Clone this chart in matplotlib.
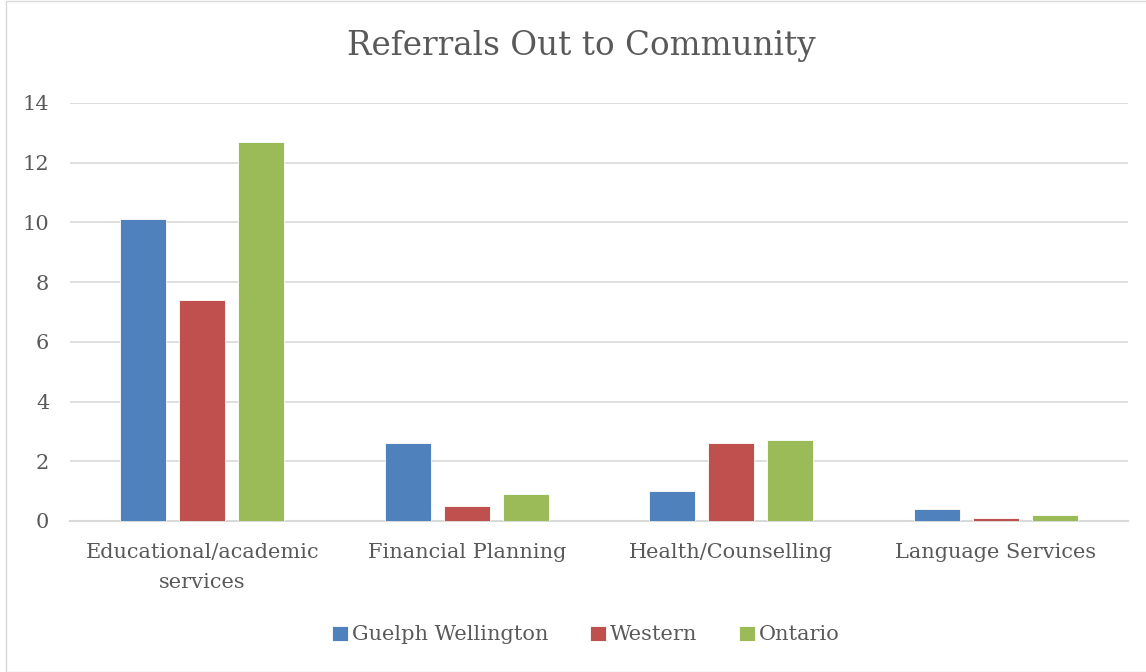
import numpy as np
import matplotlib.pyplot as plt
from matplotlib.patches import Rectangle

categories = ["Educational/academic\nservices", "Financial Planning", "Health/Counselling", "Language Services"]
series = ["Guelph Wellington", "Western", "Ontario"]
guelph = [10.1, 2.6, 1.0, 0.4]
western = [7.4, 0.5, 2.6, 0.1]
ontario = [12.7, 0.9, 2.7, 0.2]
colors = ["#4f81bd", "#c0504d", "#9bbb59"]

plt.rcParams['font.family'] = ['DejaVu Serif']

fig = plt.figure(figsize=(11.46, 6.72), dpi=100)
ax = fig.add_axes([70 / 1146, 1 - 521 / 672, 1058 / 1146, 418 / 672])

x = np.arange(len(categories))
width = 0.175
offset = 0.223
for i, (name, vals) in enumerate(zip(series, [guelph, western, ontario])):
    ax.bar(x + (i - 1) * offset, vals, width, color=colors[i], label=name,
           edgecolor="white", linewidth=0.6, zorder=3)

ax.set_xlim(-0.5, len(categories) - 0.5)
ax.set_ylim(0, 14)
ax.set_yticks(range(0, 15, 2))
ax.set_xticks(x)
ax.set_xticklabels(categories, fontsize=15, color="#595959", linespacing=1.75)
ax.tick_params(axis="y", labelsize=15, labelcolor="#595959", length=0, pad=15)
ax.tick_params(axis="x", length=0, pad=16)
ax.grid(axis="y", color="#d9d9d9", linewidth=1.2, zorder=0)
for s in ["top", "right", "left"]:
    ax.spines[s].set_visible(False)
ax.spines["bottom"].set_color("#d9d9d9")
ax.spines["bottom"].set_linewidth(1.5)

fig.text(581 / 1146, 1 - 46 / 672, "Referrals Out to Community", ha="center", va="center",
         fontsize=23.5, color="#595959")

fig.legend(loc="center", bbox_to_anchor=(586 / 1146, 1 - 635 / 672), ncol=3, frameon=False,
           fontsize=15, labelcolor="#595959", handlelength=0.75, handleheight=0.75,
           handletextpad=0.2, columnspacing=2.0)

fig.patches.append(Rectangle((6 / 1146, 0), 1.0, 0.999, transform=fig.transFigure,
                             fill=False, edgecolor="#d9d9d9", linewidth=1))

fig.savefig("out.png", dpi=100)
